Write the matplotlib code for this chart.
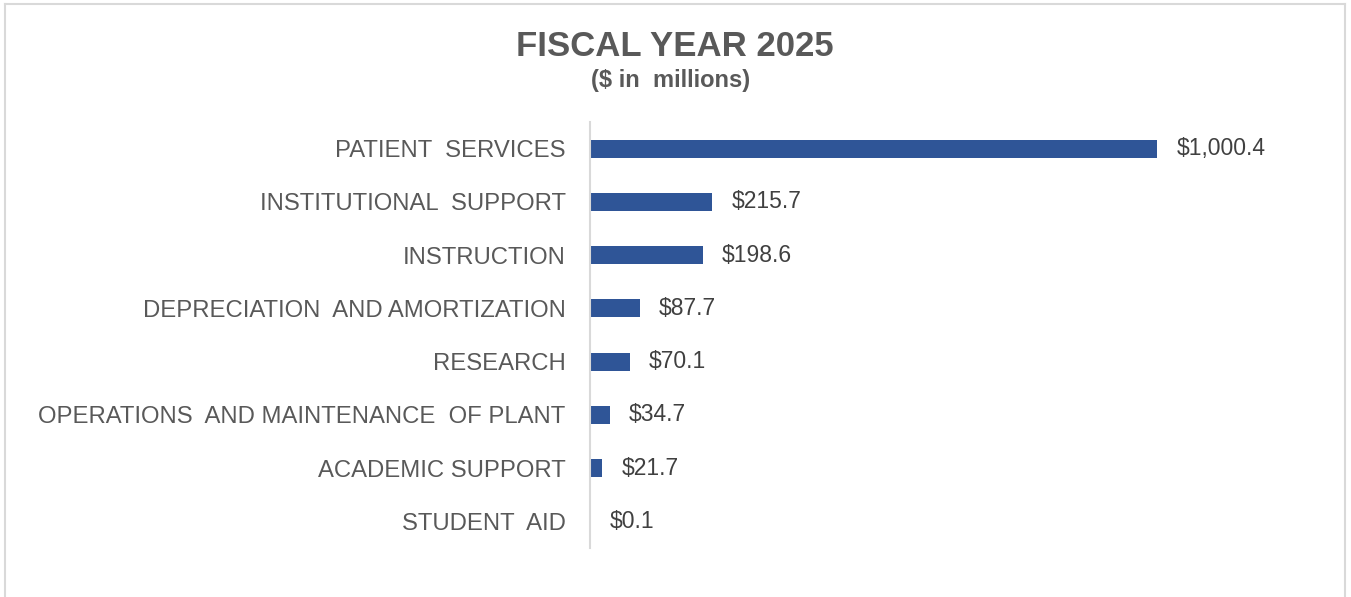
import matplotlib
matplotlib.use("Agg")
import matplotlib.pyplot as plt

categories = [
    "PATIENT  SERVICES",
    "INSTITUTIONAL  SUPPORT",
    "INSTRUCTION",
    "DEPRECIATION  AND AMORTIZATION",
    "RESEARCH",
    "OPERATIONS  AND MAINTENANCE  OF PLANT",
    "ACADEMIC SUPPORT",
    "STUDENT  AID",
]
values = [1000.4, 215.7, 198.6, 87.7, 70.1, 34.7, 21.7, 0.1]
value_labels = ["$1,000.4", "$215.7", "$198.6", "$87.7", "$70.1", "$34.7", "$21.7", "$0.1"]

plt.rcParams["font.family"] = ["Liberation Sans", "DejaVu Sans"]

W, H = 1351, 597
fig = plt.figure(figsize=(W / 100, H / 100), dpi=100)
fig.patch.set_facecolor("white")

# light outer frame (open at the bottom)
frame_color = "#d9d9d9"
for xs, ys in [([5 / W, 5 / W], [0, 1 - 4 / H]),
               ([1345 / W, 1345 / W], [0, 1 - 4 / H]),
               ([5 / W, 1345 / W], [1 - 4 / H, 1 - 4 / H])]:
    fig.add_artist(plt.Line2D(xs, ys, transform=fig.transFigure, color=frame_color, lw=1.5))

left, right = 590 / W, 1300 / W
bottom, top = 1 - 548 / H, 1 - 122 / H
ax = fig.add_axes([left, bottom, right - left, top - bottom])

ypos = list(range(len(categories)))
ax.barh(ypos, values, height=0.34, color="#2F5597", zorder=2)
ax.set_ylim(len(categories) - 0.5, -0.5)
ax.set_xlim(0, (1300 - 590) / ((1158 - 591) / 1000.4))

ax.set_yticks(ypos)
ax.set_yticklabels(categories, fontsize=17.2, color="#595959")
ax.tick_params(axis="y", length=0, pad=17.5)
ax.set_xticks([])

for s in ["top", "right", "bottom"]:
    ax.spines[s].set_visible(False)
ax.spines["left"].set_color("#d9d9d9")
ax.spines["left"].set_linewidth(1.5)

for y, v, lab in zip(ypos, values, value_labels):
    ax.annotate(lab, xy=(v, y), xytext=(14, 0), textcoords="offset points",
                va="center", ha="left", fontsize=16.5, color="#404040")

fig.text(675 / W, 1 - 47 / H, "FISCAL YEAR 2025", ha="center", va="center",
         fontsize=25, fontweight="bold", color="#595959")
fig.text(671 / W, 1 - 80 / H, "($ in  millions)", ha="center", va="center",
         fontsize=17, fontweight="bold", color="#595959")

fig.savefig("out.png", dpi=100, facecolor="white")
